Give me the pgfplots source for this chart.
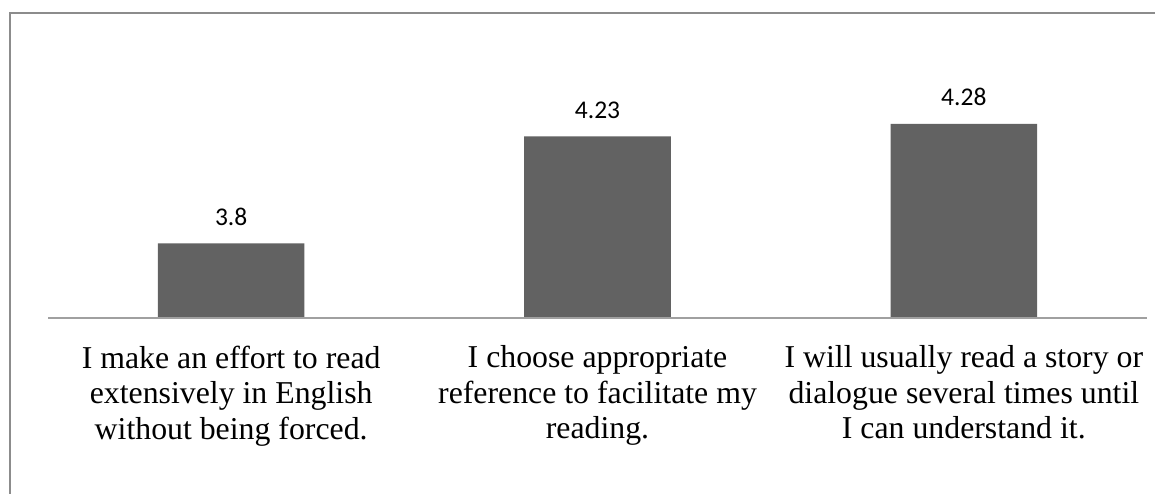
\documentclass[border=0pt]{standalone}
\usepackage{pgfplots}
\pgfplotsset{compat=1.18}
\usepackage{fontspec}
\setmainfont{Liberation Serif}
\newfontfamily\calibri{Carlito}
\definecolor{barc}{HTML}{626262}
\definecolor{framec}{HTML}{8C8C8C}
\definecolor{basec}{HTML}{A0A0A0}
\begin{document}
\begin{tikzpicture}
\path[use as bounding box] (0,0) rectangle (1155pt,494pt);
\fill[white] (0,0) rectangle (1155pt,494pt);
\draw[framec, line width=2pt] (10pt,0) -- (10pt,481pt) -- (1160pt,481pt);
\begin{axis}[
  at={(48pt,176pt)}, anchor=south west,
  scale only axis, width=1099pt, height=273.7pt,
  xmin=-0.5, xmax=2.5, ymin=3.5, ymax=4.6,
  ybar, bar width=0.4,
  axis x line*=bottom, axis y line=none,
  x axis line style={-, draw=basec, line width=1.6pt},
  axis on top,
  clip mode=individual,
  xtick={0,1,2}, major tick length=0pt,
  ytick=\empty,
  xticklabels={{I make an effort to read\\extensively in English\\without being forced.},
               {I choose appropriate\\reference to facilitate my\\reading.},
               {I will usually read a story or\\dialogue several times until\\I can understand it.}},
  xticklabel style={align=center, anchor=north, inner sep=0pt, yshift=-27.5pt,
     font=\fontsize{31.8}{35.5}\selectfont},
  nodes near coords,
  every node near coord/.append style={anchor=base, inner sep=0pt, yshift=18pt,
     font=\fontsize{25.5}{30}\calibri, text=black},
  point meta=explicit symbolic,
]
\addplot[fill=barc, draw=none] coordinates {(0,3.8)[3.8] (1,4.23)[4.23] (2,4.28)[4.28]};
\end{axis}
\end{tikzpicture}
\end{document}
